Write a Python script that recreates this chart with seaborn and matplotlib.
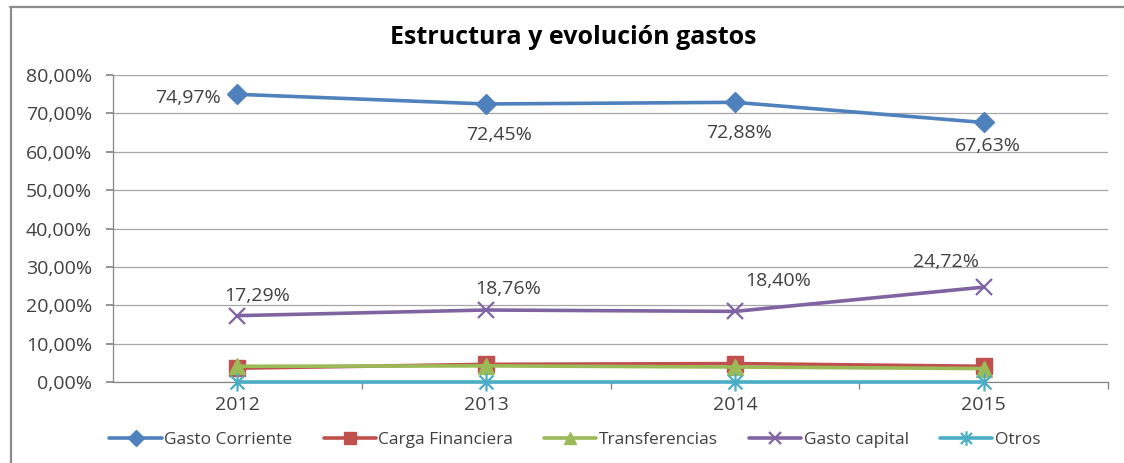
import numpy as np
import pandas as pd
import matplotlib
matplotlib.use("Agg")
import matplotlib.pyplot as plt
from matplotlib.lines import Line2D
from matplotlib.path import Path
from matplotlib.ticker import FuncFormatter
import seaborn as sns

# ---- data ----
years = ["2012", "2013", "2014", "2015"]
gasto_corriente = [74.97, 72.45, 72.88, 67.63]
carga_financiera = [3.6, 4.6, 4.8, 4.1]
transferencias = [4.1, 4.2, 3.9, 3.5]
gasto_capital = [17.29, 18.76, 18.40, 24.72]
otros = [0.0, 0.0, 0.0, 0.0]
series_names = ["Gasto Corriente", "Carga Financiera", "Transferencias", "Gasto capital", "Otros"]
title = "Estructura y evolución gastos"
y_ticks = [0, 10, 20, 30, 40, 50, 60, 70, 80]

# ---- style ----
sns.set_theme(style="white")
plt.rcParams["font.family"] = ["Open Sans", "DejaVu Sans"]
txt_color = "#404040"
colors = ["#4F81BD", "#C0504D", "#9BBB59", "#8064A2", "#4BACC6"]
star = Path([(-1, -1), (1, 1), (-1, 1), (1, -1), (0, -1.3), (0, 1.3)],
            [Path.MOVETO, Path.LINETO, Path.MOVETO, Path.LINETO, Path.MOVETO, Path.LINETO])
markers = ["D", "s", "^", "x", star]
msizes = [10.5, 11, 11, 11, 13]

values = [gasto_corriente, carga_financiera, transferencias, gasto_capital, otros]
df = pd.DataFrame({
    "year": np.tile(years, len(series_names)),
    "serie": np.repeat(series_names, len(years)),
    "value": np.concatenate(values),
})
df["pos"] = df["year"].map({y: i for i, y in enumerate(years)})

fig = plt.figure(figsize=(11.24, 4.63), dpi=100)
ax = fig.add_axes([113 / 1124, (463 - 382) / 463, 995 / 1124, 307 / 463])

for name, col, mk, ms in zip(series_names, colors, markers, msizes):
    sub = df[df["serie"] == name]
    filled = mk in ("D", "s", "^")
    sns.lineplot(data=sub, x="pos", y="value", ax=ax, color=col, linewidth=2.6,
                 marker=mk, markersize=ms, markeredgecolor=col,
                 markerfacecolor=col if filled else "none",
                 markeredgewidth=1.0 if filled else 1.6, label=name,
                 legend=False, zorder=3, clip_on=False)

# data labels
gc_offsets = [(-12, -3, "right"), (9, -22, "center"), (3, -22, "center"), (3, -17, "center")]
cap_offsets = [(14, 14, "center"), (16, 15, "center"), (31, 22, "center"), (-27, 18, "center")]
for i, v in enumerate(gasto_corriente):
    dx, dy, ha = gc_offsets[i]
    ax.annotate(f"{v:.2f}%".replace(".", ","), (i, v), xytext=(dx, dy),
                textcoords="offset points", ha=ha, va="center",
                fontsize=14, color=txt_color)
for i, v in enumerate(gasto_capital):
    dx, dy, ha = cap_offsets[i]
    ax.annotate(f"{v:.2f}%".replace(".", ","), (i, v), xytext=(dx, dy),
                textcoords="offset points", ha=ha, va="center",
                fontsize=14, color=txt_color)

# axes
ax.set_xlim(-0.5, len(years) - 0.5)
ax.set_ylim(0, 80)
ax.set_yticks(y_ticks)
ax.yaxis.set_major_formatter(FuncFormatter(lambda v, p: f"{v:.2f}%".replace(".", ",")))
ax.set_xticks(range(len(years)))
ax.set_xticklabels(years)
ax.set_xticks(np.arange(len(years)) + 0.5, minor=True)
ax.tick_params(axis="x", which="major", length=0, labelsize=14, labelcolor=txt_color, pad=10)
ax.tick_params(axis="x", which="minor", length=5, color="#868686", direction="out", bottom=True)
ax.tick_params(axis="y", length=5, color="#868686", direction="out", left=True,
               labelsize=14, labelcolor=txt_color, pad=10)
ax.grid(axis="y", color="#a6a6a6", linewidth=0.9)
ax.grid(axis="x", visible=False)
for s in ["top", "right"]:
    ax.spines[s].set_visible(False)
for s in ["left", "bottom"]:
    ax.spines[s].set_color("#868686")
    ax.spines[s].set_linewidth(0.9)
ax.set_xlabel("")
ax.set_ylabel("")

fig.text(573 / 1124, 1 - 38 / 463, title, ha="center", va="center",
         fontsize=18, fontweight="bold", color="black")

handles = [Line2D([], [], color=c, linewidth=2.6, marker=m, markersize=s * 0.8,
                  markeredgecolor=c, markerfacecolor=c if m in ("D", "s", "^") else "none",
                  markeredgewidth=1.0 if m in ("D", "s", "^") else 1.6)
           for c, m, s in zip(colors, markers, msizes)]
fig.legend(handles, series_names, loc="center", bbox_to_anchor=(575 / 1124, 1 - 440 / 463),
           ncol=5, frameon=False, fontsize=12.5, handlelength=3.0, handletextpad=0.15,
           columnspacing=1.8, labelcolor=txt_color)

# outer border
fig.add_artist(Line2D([10 / 1124, 1], [1 - 7 / 463, 1 - 7 / 463], color="#8c8c8c",
                      linewidth=1.6, transform=fig.transFigure))
fig.add_artist(Line2D([11 / 1124, 11 / 1124], [0, 1 - 7 / 463], color="#8c8c8c",
                      linewidth=1.6, transform=fig.transFigure))

fig.savefig("out.png", dpi=100)
